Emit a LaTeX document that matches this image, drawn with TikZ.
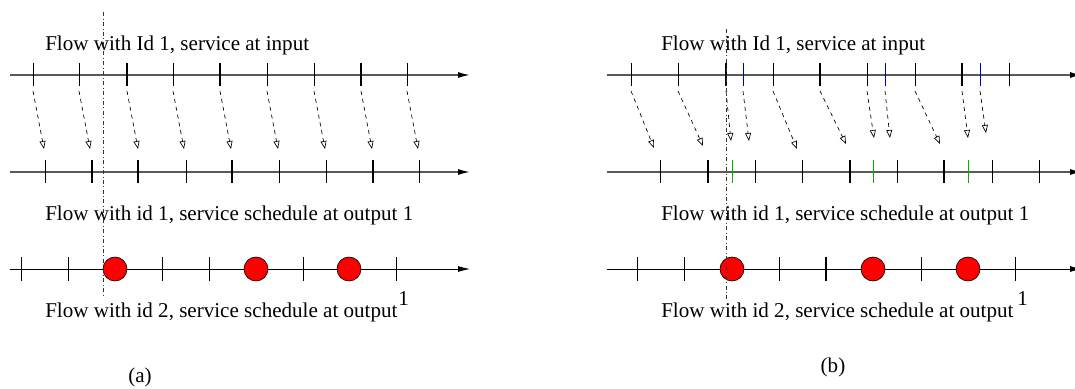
\documentclass[tikz,border=0pt]{standalone}
\usepackage{fontspec}
\setmainfont{Liberation Serif}
\usetikzlibrary{arrows.meta}

\begin{document}
\begin{tikzpicture}[x=0.75pt,y=-0.75pt,
 axis/.style={draw=black!65,line width=1.1pt,-{Latex[length=9pt,width=4.5pt,black]}},
 baseaxis/.style={draw=black,line width=0.6pt,-{Latex[length=9pt,width=4.5pt]}},
 tick/.style={draw=black,line width=0.6pt},
 fattick/.style={draw=black,line width=1.2pt},
 map/.style={dashed,line width=0.5pt,-{Triangle[open,length=6pt,width=4.5pt]}},
 slot/.style={circle,draw=black,line width=0.5pt,fill=red,minimum size=18pt,inner sep=0pt},
 flowtext/.style={anchor=base west,inner sep=0pt,font=\fontsize{15.8}{18}\selectfont},
 cut/.style={dash dot,line width=0.5pt,draw=black!80}]
\useasboundingbox (0,0) rectangle (1075,389);

% ---- (a) ----
\node[flowtext] (ina) at (45,50) {Flow with Id 1, service at input};
\node[flowtext] (outa) at (45,220) {Flow with id 1, service schedule at output 1};
\node[flowtext] (seca) at (45,317) {Flow with id 2, service schedule at output};
\node[flowtext] (supa) at (398,305) {1};
\node[flowtext,anchor=base] (capa) at (140,382) {(a)};
\coordinate (a1s) at (10,75);  \coordinate (a1e) at (470,75);
\coordinate (a2s) at (10,172); \coordinate (a2e) at (470,172);
\coordinate (a3s) at (10,269); \coordinate (a3e) at (470,269);
\draw[axis] (a1s)--(a1e);
\draw[axis] (a2s)--(a2e);
\draw[baseaxis] (a3s)--(a3e);
\foreach \x/\s in {33/tick,79/tick,127/fattick,173/tick,220/fattick,267/tick,314/tick,361/fattick,407/tick}
 \draw[\s] (\x,63)--(\x,86);
\foreach \x/\s in {45/tick,92/fattick,138/fattick,186/tick,232/fattick,279/tick,326/tick,373/fattick,419/tick}
 \draw[\s] (\x,160)--(\x,183);
\foreach \x in {21,68,162,209,303,396}
 \draw[tick] (\x,257)--(\x,281);
\foreach \x [count=\i] in {33,79,127,173,220,267,314,361,407}{
 \coordinate (ma\i) at (\x,91);
 \coordinate (na\i) at (\x+11,149);
 \draw[map] (ma\i)--(na\i);
}
\foreach \x [count=\i] in {115,256,349}
 \node[slot] (ca\i) at (\x,269) {};
\coordinate (cuta1) at (103,12); \coordinate (cuta2) at (103,298);
\draw[cut] (cuta1)--(cuta2);

% ---- (b) ----
\node[flowtext] (inb) at (661,50) {Flow with Id 1, service at input};
\node[flowtext] (outb) at (661,220) {Flow with id 1, service schedule at output 1};
\node[flowtext] (secb) at (661,317) {Flow with id 2, service schedule at output};
\node[flowtext] (supb) at (1017,305) {1};
\node[flowtext,anchor=base] (capb) at (833,372) {(b)};
\coordinate (b1s) at (607,75);  \coordinate (b1e) at (1082,75);
\coordinate (b2s) at (607,172); \coordinate (b2e) at (1082,172);
\coordinate (b3s) at (607,269); \coordinate (b3e) at (1082,269);
\draw[axis] (b1s)--(b1e);
\draw[axis] (b2s)--(b2e);
\draw[baseaxis] (b3s)--(b3e);
\foreach \x/\s in {631/tick,678/tick,726/fattick,773/tick,820/fattick,867/tick,915/tick,962/fattick,1009/tick}
 \draw[\s] (\x,63)--(\x,86);
\foreach \x in {743,885,980}
 \draw[tick,draw=blue!75!black] (\x,63)--(\x,86);
\foreach \x/\s in {660/tick,708/fattick,755/tick,802/tick,850/fattick,897/tick,944/fattick,992/tick,1039/tick}
 \draw[\s] (\x,160)--(\x,183);
\foreach \x in {732,873,968}
 \draw[tick,draw=green!70!black] (\x,160)--(\x,183);
\foreach \x/\s in {637/tick,684/tick,779/tick,826/fattick,921/tick,1015/tick}
 \draw[\s] (\x,257)--(\x,281);
\foreach \x/\u/\v [count=\i] in {631/654/148,678/703/146,726/731/141,743/749/141,773/797/149,
 820/846/144,867/874/138,885/890/138,915/940/144,962/968/138,980/986/133}{
 \coordinate (mb\i) at (\x,91);
 \coordinate (nb\i) at (\u,\v);
 \draw[map] (mb\i)--(nb\i);
}
\foreach \x [count=\i] in {732,873,968}
 \node[slot] (cb\i) at (\x,269) {};
\coordinate (cutb1) at (726,29); \coordinate (cutb2) at (726,300);
\draw[cut] (cutb1)--(cutb2);
\end{tikzpicture}
\end{document}
